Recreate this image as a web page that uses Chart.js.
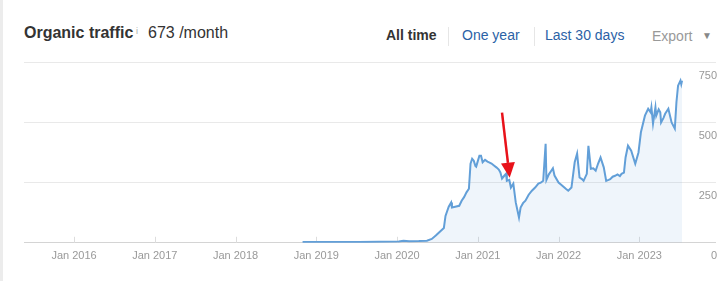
<!DOCTYPE html>
<html>
<head>
<meta charset="utf-8">
<script src="https://cdn.jsdelivr.net/npm/chart.js@4/dist/chart.umd.min.js"></script>
<style>
  body { margin: 0; background: #fff; font-family: "Liberation Sans", Arial, sans-serif; }
  #wrap { position: relative; width: 727px; height: 281px; overflow: hidden; }
  #edge { position: absolute; left: 0; top: 0; width: 3px; height: 281px; background: #ececec; }
  .t { position: absolute; white-space: nowrap; line-height: 1; }
  .sep { position: absolute; top: 27px; width: 1px; height: 19px; background: #e6e6e6; }
  #box { position: absolute; left: 0; top: 55px; width: 727px; height: 226px; }
</style>
</head>
<body>
<div id="wrap">
  <div id="edge"></div>
  <span class="t" style="left:24px;top:25px;font-size:16px;font-weight:bold;color:#333;">Organic traffic</span>
  <span class="t" style="left:136px;top:27px;font-size:9px;color:#aaa;">i</span>
  <span class="t" style="left:148px;top:25px;font-size:16px;color:#333;">673 /month</span>
  <span class="t" style="left:386px;top:28px;font-size:14px;font-weight:bold;color:#333;">All time</span>
  <div class="sep" style="left:448px;"></div>
  <span class="t" style="left:462px;top:28px;font-size:14px;color:#2b62a6;">One year</span>
  <div class="sep" style="left:534px;"></div>
  <span class="t" style="left:545px;top:28px;font-size:14px;color:#2b62a6;">Last 30 days</span>
  <span class="t" style="left:652px;top:29px;font-size:14px;color:#999;">Export</span>
  <span class="t" style="left:702px;top:31px;font-size:10px;color:#888;">&#9660;</span>
  <div id="box"><canvas id="trafficChart"></canvas></div>
</div>
<script>
// dates as decimal years, traffic per month
const dates = [2018.83, 2019.53, 2020.02, 2020.08, 2020.15, 2020.27, 2020.37, 2020.43, 2020.48, 2020.52,
  2020.58, 2020.60, 2020.64, 2020.67, 2020.68, 2020.72, 2020.77, 2020.80, 2020.83, 2020.86,
  2020.89, 2020.91, 2020.93, 2020.95, 2020.97, 2020.98, 2021.00, 2021.02, 2021.04, 2021.06,
  2021.09, 2021.12, 2021.14, 2021.17, 2021.20, 2021.23, 2021.26, 2021.28, 2021.30, 2021.33,
  2021.35, 2021.36, 2021.39, 2021.41, 2021.44, 2021.47, 2021.51, 2021.53, 2021.56, 2021.59,
  2021.63, 2021.67, 2021.71, 2021.75, 2021.78, 2021.81, 2021.84, 2021.85, 2021.88, 2021.91,
  2021.93, 2021.95, 2022.00, 2022.04, 2022.09, 2022.12, 2022.16, 2022.20, 2022.23, 2022.26,
  2022.29, 2022.31, 2022.35, 2022.37, 2022.40, 2022.43, 2022.46, 2022.49, 2022.52, 2022.56,
  2022.59, 2022.62, 2022.64, 2022.67, 2022.70, 2022.73, 2022.76, 2022.78, 2022.81, 2022.83,
  2022.86, 2022.90, 2022.95, 2022.99, 2023.02, 2023.07, 2023.11, 2023.14, 2023.15, 2023.17,
  2023.20, 2023.21, 2023.24, 2023.26, 2023.27, 2023.30, 2023.32, 2023.36, 2023.40, 2023.44,
  2023.46, 2023.48, 2023.51, 2023.52, 2023.53];
const traffic = [3, 3, 5, 8, 6, 7, 9, 16, 30, 43,
  62, 112, 150, 168, 147, 150, 154, 175, 190, 210,
  225, 329, 350, 342, 320, 317, 340, 362, 362, 335,
  345, 338, 335, 330, 322, 314, 305, 293, 267, 280,
  287, 258, 262, 230, 246, 168, 105, 147, 165, 175,
  200, 217, 230, 246, 250, 258, 412, 262, 285, 300,
  310, 280, 251, 240, 225, 217, 230, 335, 371, 272,
  265, 258, 287, 404, 308, 310, 300, 330, 355, 314,
  258, 262, 265, 275, 279, 285, 278, 287, 292, 355,
  404, 383, 329, 376, 460, 529, 558, 543, 564, 496,
  564, 529, 555, 543, 501, 520, 537, 558, 501, 475,
  585, 654, 675, 660, 675];
const years = [2016, 2017, 2018, 2019, 2020, 2021, 2022, 2023];
const yTicks = [0, 250, 500, 750];
// red arrow: tail and tip in data units
const arrowTail = { x: 2021.30, y: 542 };
const arrowTip = { x: 2021.395, y: 271 };

const innerTicks = {
  id: 'innerTicks',
  beforeDatasetsDraw(chart) {
    const { ctx, scales: { x, y } } = chart;
    const base = y.getPixelForValue(0);
    ctx.save();
    ctx.strokeStyle = '#dddddd';
    ctx.lineWidth = 1;
    years.forEach(yr => {
      const px = Math.round(x.getPixelForValue(yr)) + 0.5;
      ctx.beginPath();
      ctx.moveTo(px, base);
      ctx.lineTo(px, base - 6);
      ctx.stroke();
    });
    ctx.restore();
  }
};

const redArrow = {
  id: 'redArrow',
  afterDatasetsDraw(chart) {
    const { ctx, scales: { x, y } } = chart;
    const x1 = x.getPixelForValue(arrowTail.x), y1 = y.getPixelForValue(arrowTail.y);
    const x2 = x.getPixelForValue(arrowTip.x), y2 = y.getPixelForValue(arrowTip.y);
    const a = Math.atan2(y2 - y1, x2 - x1);
    const hl = 15, hw = 7;
    const bx = x2 - hl * Math.cos(a), by = y2 - hl * Math.sin(a);
    ctx.save();
    ctx.strokeStyle = '#e8121a';
    ctx.fillStyle = '#e8121a';
    ctx.lineWidth = 2.5;
    ctx.beginPath();
    ctx.moveTo(x1, y1);
    ctx.lineTo(bx, by);
    ctx.stroke();
    ctx.beginPath();
    ctx.moveTo(x2, y2);
    ctx.lineTo(bx + hw * Math.sin(a), by - hw * Math.cos(a));
    ctx.lineTo(bx - hw * Math.sin(a), by + hw * Math.cos(a));
    ctx.closePath();
    ctx.fill();
    ctx.restore();
  }
};

const ctx = document.getElementById('trafficChart').getContext('2d');
const trafficChart = new Chart(ctx, {
  type: 'line',
  data: {
    datasets: [{
      data: dates.map((d, i) => ({ x: d, y: traffic[i] })),
      borderColor: '#629fd8',
      backgroundColor: 'rgba(98, 159, 216, 0.1)',
      borderWidth: 2,
      fill: 'origin',
      pointRadius: 0,
      tension: 0
    }]
  },
  options: {
    responsive: true,
    maintainAspectRatio: false,
    animation: false,
    layout: { padding: { left: 24, right: 9, top: 5, bottom: 11 } },
    plugins: { legend: { display: false }, tooltip: { enabled: false } },
    scales: {
      x: {
        type: 'linear',
        min: 2015.38,
        max: 2023.95,
        grid: { display: false, drawTicks: false },
        border: { display: false },
        afterBuildTicks: axis => { axis.ticks = years.map(v => ({ value: v })); },
        ticks: {
          color: '#999',
          font: { family: '"Liberation Sans", Arial, sans-serif', size: 11 },
          padding: 7,
          maxRotation: 0,
          autoSkip: false,
          callback: v => 'Jan ' + v
        }
      },
      y: {
        position: 'right',
        min: 0,
        max: 750,
        afterBuildTicks: axis => { axis.ticks = yTicks.map(v => ({ value: v })); },
        grid: {
          drawTicks: false,
          color: c => c.tick && c.tick.value === 0 ? '#d4d4d4' : '#e9e9e9'
        },
        border: { display: false },
        ticks: {
          mirror: true,
          padding: 1,
          labelOffset: 13,
          color: '#999',
          font: { family: '"Liberation Sans", Arial, sans-serif', size: 11 }
        }
      }
    }
  },
  plugins: [innerTicks, redArrow]
});
</script>
</body>
</html>
